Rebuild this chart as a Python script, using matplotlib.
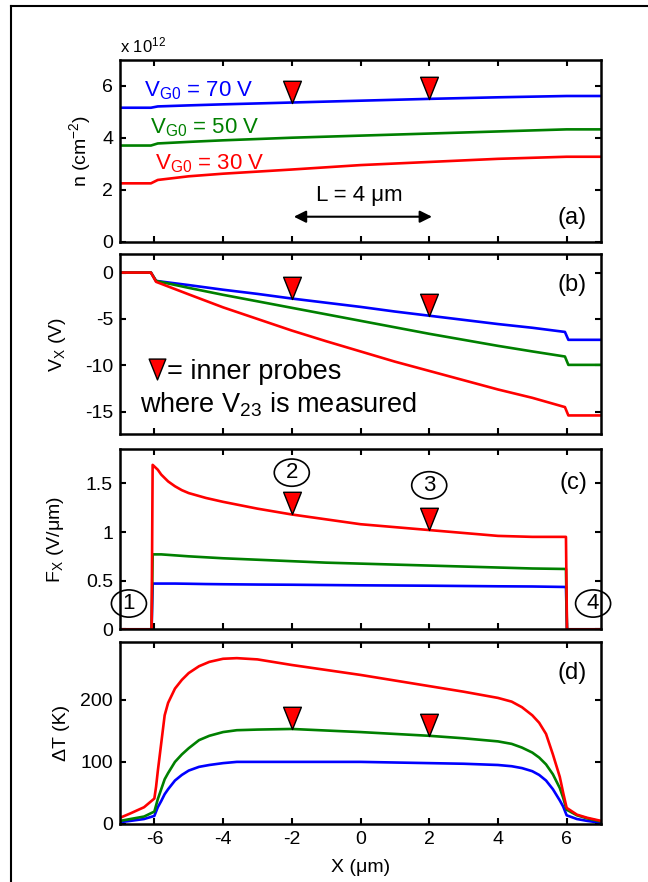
import matplotlib
matplotlib.use("Agg")
import matplotlib.pyplot as plt
from matplotlib.path import Path
from matplotlib.lines import Line2D
from matplotlib.patches import Ellipse

plt.rcParams['font.family'] = ['Liberation Sans', 'DejaVu Sans']
plt.rcParams['mathtext.fontset'] = 'custom'
plt.rcParams['mathtext.rm'] = 'Liberation Sans'
plt.rcParams['mathtext.it'] = 'Liberation Sans:italic'
plt.rcParams['mathtext.bf'] = 'Liberation Sans:bold'
plt.rcParams['axes.unicode_minus'] = False

# ---------------- data ----------------
series_labels = ['V$_{\\mathrm{G0}}$ = 30 V', 'V$_{\\mathrm{G0}}$ = 50 V', 'V$_{\\mathrm{G0}}$ = 70 V']
colors = {'red': '#ff0000', 'green': '#008000', 'blue': '#0000ff'}

# (a) carrier density n (x 1e12 cm^-2)
x_n = [-7, -6.1, -5.9, -5, -4, -2, 0, 2, 4, 6, 7]
n_red = [2.25, 2.25, 2.38, 2.52, 2.62, 2.78, 2.95, 3.07, 3.19, 3.27, 3.27]
n_green = [3.70, 3.70, 3.78, 3.84, 3.90, 4.00, 4.08, 4.16, 4.24, 4.32, 4.32]
n_blue = [5.15, 5.15, 5.20, 5.24, 5.28, 5.35, 5.42, 5.49, 5.55, 5.60, 5.60]

# (b) potential V_X (V)
x_v = [-7, -6.1, -5.95, -5, -4, -3, -2, -1, 0, 1, 2, 3, 4, 5, 5.95, 6.05, 7]
v_red = [0, 0, -1.0, -2.35, -3.75, -5.0, -6.25, -7.4, -8.5, -9.6, -10.6, -11.6, -12.6, -13.5, -14.5, -15.4, -15.4]
v_green = [0, 0, -0.9, -1.65, -2.4, -3.1, -3.8, -4.5, -5.2, -5.9, -6.6, -7.25, -7.9, -8.5, -9.05, -9.95, -9.95]
v_blue = [0, 0, -0.9, -1.35, -1.85, -2.3, -2.8, -3.25, -3.7, -4.2, -4.65, -5.1, -5.55, -5.95, -6.4, -7.25, -7.25]

# (c) field F_X (V/um)
x_f = [-7, -6.08, -6.05, -5.9, -5.8, -5.6, -5.4, -5.2, -5, -4.5, -4, -3, -2, -1, 0, 1, 2, 3, 4, 5, 5.98, 6.01, 7]
f_red = [0, 0, 1.69, 1.64, 1.59, 1.52, 1.47, 1.43, 1.40, 1.35, 1.31, 1.24, 1.18, 1.13, 1.08, 1.05, 1.02, 0.99, 0.96, 0.95, 0.95, 0, 0]
f_green = [0, 0, 0.77, 0.77, 0.77, 0.765, 0.76, 0.755, 0.75, 0.74, 0.73, 0.715, 0.70, 0.685, 0.675, 0.665, 0.655, 0.645, 0.635, 0.625, 0.62, 0, 0]
f_blue = [0, 0, 0.47, 0.47, 0.47, 0.47, 0.47, 0.469, 0.468, 0.465, 0.463, 0.46, 0.458, 0.455, 0.452, 0.45, 0.448, 0.445, 0.442, 0.44, 0.435, 0, 0]

# (d) temperature rise dT (K)
x_t = [-7, -6.7, -6.3, -6.0, -5.95, -5.9, -5.8, -5.7, -5.6, -5.4, -5.2, -5.0, -4.7, -4.4, -4.0, -3.6,
       -3, -2, 0, 2, 3, 4, 4.4, 4.7, 5.0, 5.2, 5.4, 5.6, 5.8, 5.9, 6.0, 6.3, 6.6, 7]
t_red = [10, 17, 27, 41, 60, 85, 130, 175, 195, 218, 232, 243, 254, 261, 266, 267,
         265, 256, 240, 222, 213, 203, 197, 188, 175, 163, 145, 112, 76, 50, 26, 15, 10, 5]
t_green = [5, 8, 12, 20, 30, 40, 56, 72, 82, 100, 112, 122, 135, 142, 148, 151,
           152, 153, 148, 142, 138, 133, 129, 123, 115, 107, 96, 80, 58, 42, 23, 14, 9, 4]
t_blue = [3, 5, 8, 13, 20, 27, 37, 48, 56, 70, 79, 86, 92, 95, 98, 100,
          100, 100, 100, 98, 97, 95, 93, 90, 85, 79, 70, 56, 38, 28, 14, 8, 5, 2]

# inner probe positions and values on the curves
probe_x = [-2, 2]
probe_n = [5.33, 5.47]
probe_v = [-2.82, -4.68]
probe_f = [1.18, 1.02]
probe_t = [153, 142]

# contact labels in (c)
contact_labels = ['1', '2', '3', '4']
contact_x = [-6.74, -2.0, 2.0, 6.77]
contact_y = [0.265, 1.61, 1.48, 0.265]

xticks = [-6, -4, -2, 0, 2, 4, 6]

# ---------------- figure ----------------
fig = plt.figure(figsize=(6.48, 8.82), dpi=100)
W, H = 648.0, 882.0

def add_ax(top_px, bot_px):
    return fig.add_axes([120 / W, 1 - bot_px / H, 481 / W, (bot_px - top_px) / H])

axa = add_ax(59.5, 242)
axb = add_ax(254, 434)
axc = add_ax(449.3, 629.3)
axd = add_ax(642, 824)

tri_path = Path([(-0.4, 1.0), (0.4, 1.0), (0.0, 0.0), (-0.4, 1.0)],
                [Path.MOVETO, Path.LINETO, Path.LINETO, Path.CLOSEPOLY])
tri_center = Path([(-0.4, 0.5), (0.4, 0.5), (0.0, -0.5), (-0.4, 0.5)],
                  [Path.MOVETO, Path.LINETO, Path.LINETO, Path.CLOSEPOLY])
probe_style = dict(ls='none', marker=tri_path, ms=32, mfc='#ff0000', mec='black', mew=1.0, clip_on=False, zorder=5)

lw = 1.9
for ax in (axa, axb, axc, axd):
    ax.set_xlim(-7, 7)
    ax.set_xticks(xticks)
    ax.tick_params(direction='in', top=True, right=True, length=4.5, width=1.5,
                   labelsize=14, pad=5)
    for s in ax.spines.values():
        s.set_linewidth(1.8)
    if ax is not axd:
        ax.tick_params(labelbottom=False)

# (a)
axa.plot(x_n, n_blue, color=colors['blue'], lw=lw)
axa.plot(x_n, n_green, color=colors['green'], lw=lw)
axa.plot(x_n, n_red, color=colors['red'], lw=lw)
axa.plot(probe_x, probe_n, **probe_style)
axa.set_ylim(0, 7)
axa.set_yticks([0, 2, 4, 6])
axa.set_ylabel('n (cm$^{-2}$)', fontsize=14)
axa.yaxis.set_label_coords(-0.056, 0.5)
axa.text(0, 1.025, 'x 10$^{12}$', transform=axa.transAxes, fontsize=12, ha='left', va='bottom')
axa.text(-6.30, 5.59, series_labels[2], color=colors['blue'], fontsize=16, va='baseline')
axa.text(-6.13, 4.16, series_labels[1], color=colors['green'], fontsize=16, va='baseline')
axa.text(-5.98, 2.80, series_labels[0], color=colors['red'], fontsize=16, va='baseline')
axa.text(-1.3, 1.57, 'L = 4 \u03bcm', fontsize=16, va='baseline')
axa.annotate('', xy=(probe_x[1] + 0.08, 0.97), xytext=(probe_x[0] + 0.06, 0.97),
             arrowprops=dict(arrowstyle='<|-|>', color='black', lw=1.5, mutation_scale=18,
                             shrinkA=0, shrinkB=0))
axa.text(0.971, 0.13, '(a)', transform=axa.transAxes, fontsize=17, ha='right', va='center')

# (b)
axb.plot(x_v, v_blue, color=colors['blue'], lw=lw)
axb.plot(x_v, v_green, color=colors['green'], lw=lw)
axb.plot(x_v, v_red, color=colors['red'], lw=lw)
axb.plot(probe_x, probe_v, **probe_style)
axb.set_ylim(-17.4, 2)
axb.set_yticks([-15, -10, -5, 0])
axb.set_ylabel('V$_{\\mathrm{X}}$ (V)', fontsize=14)
axb.yaxis.set_label_coords(-0.108, 0.5)
key = Line2D([], [], ls='none', marker=tri_center, ms=15, mfc='#ff0000', mec='black', mew=1.0)
axb.legend([key], ['= inner probes'], loc='center left', bbox_to_anchor=(0.056, 0.346),
           frameon=False, fontsize=19.5, handlelength=0.75, handletextpad=0.0,
           borderpad=0, borderaxespad=0)
axb.text(-6.42, -15.1, 'where V$_{\\mathrm{23}}$ is measured', fontsize=19.5, va='baseline')
axb.text(0.971, 0.83, '(b)', transform=axb.transAxes, fontsize=17, ha='right', va='center')

# (c)
axc.plot(x_f, f_blue, color=colors['blue'], lw=lw)
axc.plot(x_f, f_green, color=colors['green'], lw=lw)
axc.plot(x_f, f_red, color=colors['red'], lw=lw)
axc.plot(probe_x, probe_f, **probe_style)
axc.set_ylim(0, 1.85)
axc.set_yticks([0, 0.5, 1, 1.5])
axc.set_yticklabels(['0', '0.5', '1', '1.5'])
axc.set_ylabel('F$_{\\mathrm{X}}$ (V/\u03bcm)', fontsize=14)
axc.yaxis.set_label_coords(-0.112, 0.5)
for lab, cx, cy in zip(contact_labels, contact_x, contact_y):
    axc.add_patch(Ellipse((cx, cy), 1.02, 0.28, facecolor='none', edgecolor='black', lw=1.2, clip_on=False))
    axc.text(cx, cy, lab, fontsize=16, ha='center', va='center')
axc.text(0.971, 0.81, '(c)', transform=axc.transAxes, fontsize=17, ha='right', va='center')

# (d)
axd.plot(x_t, t_blue, color=colors['blue'], lw=lw)
axd.plot(x_t, t_green, color=colors['green'], lw=lw)
axd.plot(x_t, t_red, color=colors['red'], lw=lw)
axd.plot(probe_x, probe_t, **probe_style)
axd.set_ylim(0, 293)
axd.set_yticks([0, 100, 200])
axd.set_ylabel('\u0394T (K)', fontsize=14)
axd.yaxis.set_label_coords(-0.104, 0.5)
axd.set_xlabel('X (\u03bcm)', fontsize=14, labelpad=8)
axd.text(0.971, 0.83, '(d)', transform=axd.transAxes, fontsize=17, ha='right', va='center')

# outer frame (top and left edges)
fig.add_artist(Line2D([11 / W, 1.0], [1 - 5.5 / H, 1 - 5.5 / H], transform=fig.transFigure, color='black', lw=1.5))
fig.add_artist(Line2D([11 / W, 11 / W], [0.0, 1 - 5.5 / H], transform=fig.transFigure, color='black', lw=1.5))

fig.savefig('out.png', dpi=100)
